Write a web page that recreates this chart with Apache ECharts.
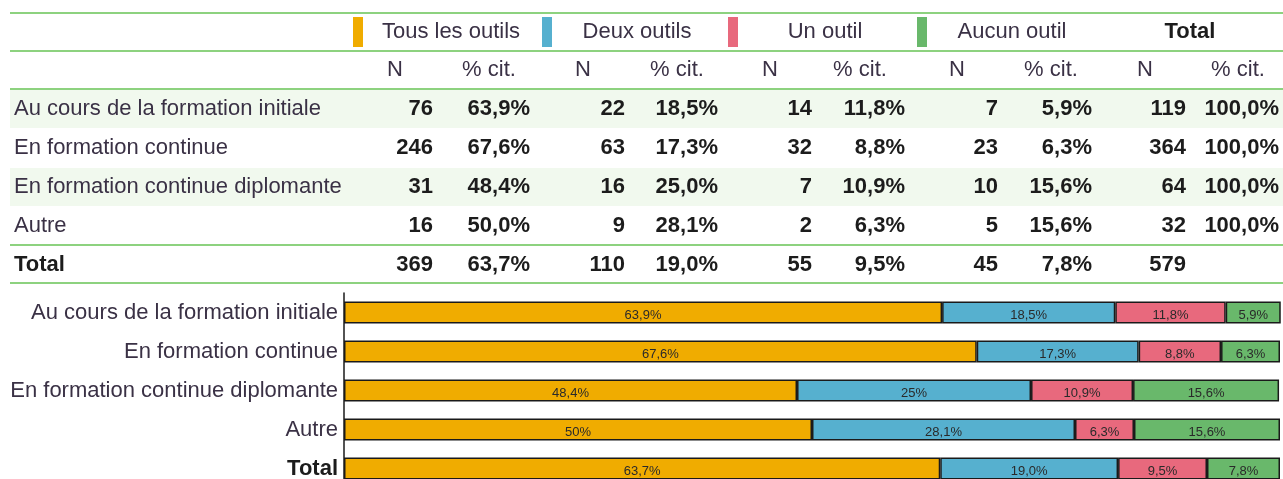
<!DOCTYPE html>
<html>
<head>
<meta charset="utf-8">
<script src="https://cdn.jsdelivr.net/npm/echarts@6/dist/echarts.min.js"></script>
<style>
  html, body { margin: 0; padding: 0; background: #ffffff; overflow: hidden; }
  #chart { width: 1283px; height: 488px; }
</style>
</head>
<body>
<div id="chart"></div>
<script>
// Rows of the survey table / stacked bars
const categories = [
  'Au cours de la formation initiale',
  'En formation continue',
  'En formation continue diplomante',
  'Autre',
  'Total'
];
const groups = ['Tous les outils', 'Deux outils', 'Un outil', 'Aucun outil'];
const groupColors = ['#f0ac00', '#56b0cf', '#e8697d', '#69b86b'];

// Counts (N) and shares (% cit.) per group
const nTous    = [76, 246, 31, 16, 369];
const pctTous  = [63.9, 67.6, 48.4, 50.0, 63.7];
const nDeux    = [22, 63, 16, 9, 110];
const pctDeux  = [18.5, 17.3, 25.0, 28.1, 19.0];
const nUn      = [14, 32, 7, 2, 55];
const pctUn    = [11.8, 8.8, 10.9, 6.3, 9.5];
const nAucun   = [7, 23, 10, 5, 45];
const pctAucun = [5.9, 6.3, 15.6, 15.6, 7.8];
const nTotal   = [119, 364, 64, 32, 579];
const pctTotal = [100.0, 100.0, 100.0, 100.0, null];

const colHeaders = ['N', '% cit.'];

const FONT = '"Liberation Sans", Arial, sans-serif';
const FS = 22;
const TXT = '#3a3145';
const NUM = '#1c1c1c';
const RULE = '#8dd27f';
const BAND = '#f1f9ee';

const fmtPct = v => v == null ? '' : v.toFixed(1).replace('.', ',') + '%';

// ---- table drawn with graphic elements ----
const tableLeft = 10, tableRight = 1283;
const ruleYs = [13, 51, 89, 245, 283];
const rowY = [109, 148, 187, 226, 265];
const nRight   = [433, 625, 812, 998, 1186];
const pctRight = [530, 718, 905, 1092, 1279];
const nHeadX   = [395, 583, 770, 957, 1145];
const pctHeadX = [489, 677, 860, 1051, 1238];
const groupX   = [451, 637, 825, 1012, 1190];
const markerX  = [353, 542, 728, 917];

const nCols = [nTous, nDeux, nUn, nAucun, nTotal];
const pctCols = [pctTous, pctDeux, pctUn, pctAucun, pctTotal];

function txt(x, y, text, align, bold, color) {
  return {
    type: 'text', x: x, y: y, silent: true,
    style: {
      text: text, align: align, verticalAlign: 'middle',
      fontSize: FS, fontFamily: FONT, fontWeight: bold ? 'bold' : 'normal',
      fill: color
    }
  };
}

const graphics = [];
// light bands behind alternate rows
[0, 2].forEach(i => {
  graphics.push({
    type: 'rect', silent: true, z: 0,
    shape: { x: tableLeft, y: rowY[i] - 19, width: tableRight - tableLeft, height: 38 },
    style: { fill: BAND }
  });
});
// horizontal rules
ruleYs.forEach(y => {
  graphics.push({
    type: 'line', silent: true, z: 2,
    shape: { x1: tableLeft, y1: y, x2: tableRight, y2: y },
    style: { stroke: RULE, lineWidth: 2 }
  });
});
// group header row with colour markers
groups.forEach((g, i) => {
  graphics.push({
    type: 'rect', silent: true, z: 3,
    shape: { x: markerX[i], y: 17, width: 10, height: 30 },
    style: { fill: groupColors[i] }
  });
  graphics.push(txt(groupX[i], 32, g, 'center', false, TXT));
});
graphics.push(txt(groupX[4], 32, 'Total', 'center', true, NUM));
// N / % cit. header row
for (let c = 0; c < 5; c++) {
  graphics.push(txt(nHeadX[c], 70, colHeaders[0], 'center', false, TXT));
  graphics.push(txt(pctHeadX[c], 70, colHeaders[1], 'center', false, TXT));
}
// body rows
categories.forEach((cat, r) => {
  const isTotal = r === categories.length - 1;
  graphics.push(txt(14, rowY[r], cat, 'left', isTotal, isTotal ? NUM : TXT));
  for (let c = 0; c < 5; c++) {
    graphics.push(txt(nRight[c], rowY[r], String(nCols[c][r]), 'right', true, NUM));
    graphics.push(txt(pctRight[c], rowY[r], fmtPct(pctCols[c][r]), 'right', true, NUM));
  }
});

// ---- stacked bars ----
const barData = [pctTous, pctDeux, pctUn, pctAucun];
const lastRow = categories.length - 1;

function barLabel(p) {
  let s = p.value.toFixed(1).replace('.', ',');
  if (p.dataIndex !== lastRow && s.endsWith(',0')) s = s.slice(0, -2);
  return s + '%';
}

const series = groups.map((g, i) => ({
  name: g,
  type: 'bar',
  stack: 'all',
  barWidth: 22,
  data: barData[i],
  itemStyle: { color: groupColors[i], borderColor: '#1a1a1a', borderWidth: 1.5 },
  label: {
    show: true, position: 'inside', formatter: barLabel,
    fontSize: 13, fontFamily: FONT, color: '#2a2a2a', offset: [0, 3]
  },
  emphasis: { disabled: true },
  animation: false
}));

const chart = echarts.init(document.getElementById('chart'), null, { renderer: 'canvas' });
chart.setOption({
  animation: false,
  backgroundColor: '#ffffff',
  grid: { left: 344, right: 3, top: 293, bottom: 0, containLabel: false },
  xAxis: { type: 'value', min: 0, max: 100, show: false },
  yAxis: {
    type: 'category', data: categories, inverse: true,
    axisLine: { show: true, lineStyle: { color: '#1a1a1a', width: 1.5 } },
    axisTick: { show: false },
    splitLine: { show: false },
    axisLabel: {
      margin: 6, fontSize: FS, fontFamily: FONT, color: TXT,
      formatter: (v) => v === 'Total' ? '{b|' + v + '}' : v,
      rich: { b: { fontSize: FS, fontFamily: FONT, fontWeight: 'bold', color: NUM } }
    }
  },
  graphic: { elements: graphics },
  series: series
});
</script>
</body>
</html>
